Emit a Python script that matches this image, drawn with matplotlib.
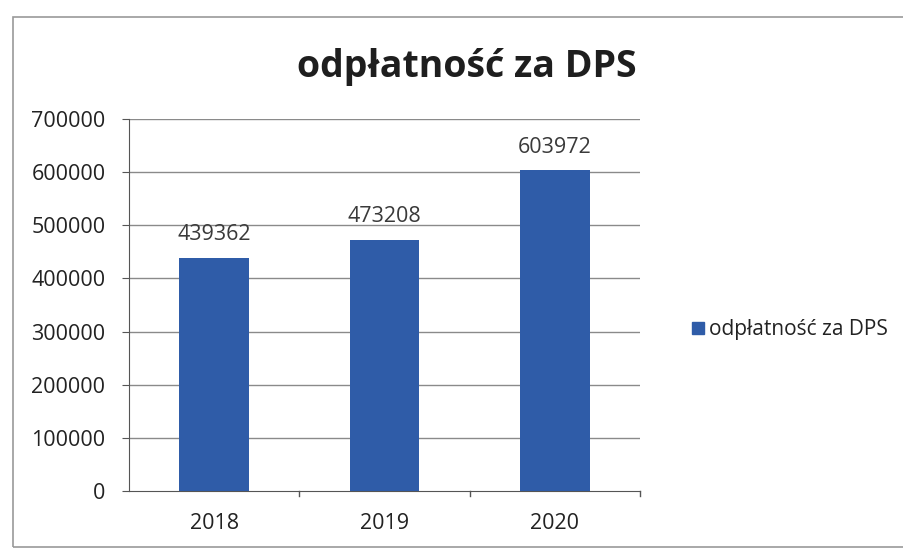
import matplotlib
matplotlib.use("Agg")
import matplotlib.pyplot as plt
from matplotlib.patches import Rectangle, Patch

plt.rcParams['font.family'] = ['Open Sans', 'DejaVu Sans']

years = ["2018", "2019", "2020"]
values = [439362, 473208, 603972]
series_name = "odpłatność za DPS"
title = "odpłatność za DPS"
yticks = [0, 100000, 200000, 300000, 400000, 500000, 600000, 700000]

W, H = 904, 553
fig = plt.figure(figsize=(W / 100, H / 100), dpi=100)

# outer frame
fig.patches.append(Rectangle((13 / W, 1 - 547 / H), 1.0, (547 - 17) / H,
                             transform=fig.transFigure, fill=False,
                             edgecolor='#9a9a9a', linewidth=1.2))

ax = fig.add_axes([129 / W, 1 - 491 / H, 511 / W, (491 - 119) / H])
bar_color = '#2f5ca8'
x = list(range(len(years)))
ax.bar(x, values, width=0.41, color=bar_color, zorder=3, label=series_name)
ax.set_xlim(-0.5, len(years) - 0.5)
ax.set_ylim(0, 700000)
ax.set_yticks(yticks)
ax.set_yticklabels([str(v) for v in yticks], fontsize=15.5, color='#222222')
ax.set_xticks(x)
ax.set_xticklabels(years, fontsize=15.5, color='#222222')
ax.tick_params(axis='x', length=0, pad=16)
ax.tick_params(axis='y', length=5, direction='out', color='#555555', pad=12)
for yv in yticks[1:]:
    ax.axhline(yv, color='#8a8a8a', linewidth=1.0, zorder=1)
# category boundary ticks on x axis
for b in [0.5, 1.5, 2.5]:
    ax.plot([b, b], [0, -9000], color='#555555', linewidth=1.0, clip_on=False)

for s in ['top', 'right']:
    ax.spines[s].set_visible(False)
ax.spines['left'].set_color('#555555')
ax.spines['bottom'].set_color('#555555')

for xi, v in zip(x, values):
    ax.annotate(str(v), (xi, v), xytext=(0, 9), textcoords='offset points',
                ha='center', va='bottom', fontsize=15.5, color='#3a3a3a')

fig.text(467 / W, 1 - 77 / H, title, ha='center', va='baseline',
         fontsize=27, fontweight='bold', color='#1e1e1e')

fig.legend(handles=[Patch(color=bar_color, label=series_name)],
           loc='center right', bbox_to_anchor=(892 / W, 1 - 330 / H),
           frameon=False, fontsize=15, handlelength=0.55, handleheight=0.55,
           handletextpad=0.25, borderpad=0.2, borderaxespad=0,
           labelcolor='#222222')

fig.savefig("out.png", dpi=100)
